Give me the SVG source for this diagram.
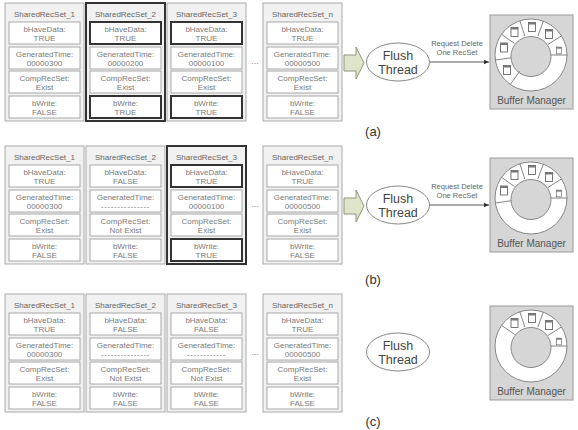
<svg xmlns="http://www.w3.org/2000/svg" xmlns:xlink="http://www.w3.org/1999/xlink" width="578" height="430" viewBox="0 0 578 430">
<style>
.col{fill:#f1f1f1;stroke:#aaa;stroke-width:1}
.box{fill:#fff;stroke:#a8a8a8;stroke-width:1}
.sel{stroke:#333;stroke-width:2}
.t{font-family:"Liberation Sans",Arial,sans-serif;font-size:8px;fill:#7a7a7a;text-anchor:middle}
.h{font-family:"Liberation Sans",Arial,sans-serif;font-size:8px;fill:#666;text-anchor:middle}
.dots{font-family:"Liberation Sans",Arial,sans-serif;font-size:9px;fill:#888;text-anchor:middle}
.ft{font-family:"Liberation Sans",Arial,sans-serif;font-size:12.5px;fill:#444;text-anchor:middle}
.lbl{font-family:"Liberation Sans",Arial,sans-serif;font-size:7.5px;fill:#666;text-anchor:middle}
.bm{font-family:"Liberation Sans",Arial,sans-serif;font-size:10px;fill:#555;text-anchor:middle}
.pl{font-family:"Liberation Sans",Arial,sans-serif;font-size:13px;fill:#333;text-anchor:middle}
.ell{fill:#fff;stroke:#888;stroke-width:1}
.blk{fill:#dfe5c9;stroke:#8f9480;stroke-width:1}
.conn{stroke:#555;stroke-width:1;fill:none}
.bmbox{fill:#d6d6d6;stroke:#999;stroke-width:1}
.ring{fill:#fff;stroke:#888;stroke-width:1}
.core{fill:#d6d6d6;stroke:#888;stroke-width:1}
.div{stroke:#777;stroke-width:0.9}
</style>
<defs>
<marker id="ah" markerWidth="6" markerHeight="6" refX="5" refY="3" orient="auto" markerUnits="userSpaceOnUse">
<path d="M0,0.8 L5,3 L0,5.2 Z" fill="#333"/>
</marker>
<g id="doc">
<rect x="-3.5" y="-4.5" width="7" height="9" fill="#fff" stroke="#555" stroke-width="0.8"/>
<rect x="-3.5" y="-4.5" width="7" height="2" fill="#777"/>
</g>
</defs>

<!-- Panel (a) -->
<g id="panel-a" transform="translate(0,3)">
<g id="a-col1" transform="translate(5,0)">
<rect class="col" x="0" y="0" width="79" height="118"/>
<text class="h" x="39.5" y="14">SharedRecSet_1</text>
<rect class="box" x="4" y="19" width="71" height="22"/>
<text class="t" x="39.5" y="28.5">bHaveData:</text><text class="t" x="39.5" y="37.5">TRUE</text>
<rect class="box" x="4" y="44" width="71" height="22"/>
<text class="t" x="39.5" y="53.5">GeneratedTime:</text><text class="t" x="39.5" y="62.5">00000300</text>
<rect class="box" x="4" y="68" width="71" height="22"/>
<text class="t" x="39.5" y="77.5">CompRecSet:</text><text class="t" x="39.5" y="86.5">Exist</text>
<rect class="box" x="4" y="93" width="71" height="22"/>
<text class="t" x="39.5" y="102.5">bWrite:</text><text class="t" x="39.5" y="111.5">FALSE</text>
</g>
<g id="a-col2" transform="translate(86,0)">
<rect class="col sel" x="0" y="0" width="79" height="118"/>
<text class="h" x="39.5" y="14">SharedRecSet_2</text>
<rect class="box sel" x="4" y="19" width="71" height="22"/>
<text class="t" x="39.5" y="28.5">bHaveData:</text><text class="t" x="39.5" y="37.5">TRUE</text>
<rect class="box" x="4" y="44" width="71" height="22"/>
<text class="t" x="39.5" y="53.5">GeneratedTime:</text><text class="t" x="39.5" y="62.5">00000200</text>
<rect class="box" x="4" y="68" width="71" height="22"/>
<text class="t" x="39.5" y="77.5">CompRecSet:</text><text class="t" x="39.5" y="86.5">Exist</text>
<rect class="box sel" x="4" y="93" width="71" height="22"/>
<text class="t" x="39.5" y="102.5">bWrite:</text><text class="t" x="39.5" y="111.5">TRUE</text>
</g>
<g id="a-col3" transform="translate(167,0)">
<rect class="col" x="0" y="0" width="79" height="118"/>
<text class="h" x="39.5" y="14">SharedRecSet_3</text>
<rect class="box sel" x="4" y="19" width="71" height="22"/>
<text class="t" x="39.5" y="28.5">bHaveData:</text><text class="t" x="39.5" y="37.5">TRUE</text>
<rect class="box" x="4" y="44" width="71" height="22"/>
<text class="t" x="39.5" y="53.5">GeneratedTime:</text><text class="t" x="39.5" y="62.5">00000100</text>
<rect class="box" x="4" y="68" width="71" height="22"/>
<text class="t" x="39.5" y="77.5">CompRecSet:</text><text class="t" x="39.5" y="86.5">Exist</text>
<rect class="box sel" x="4" y="93" width="71" height="22"/>
<text class="t" x="39.5" y="102.5">bWrite:</text><text class="t" x="39.5" y="111.5">TRUE</text>
</g>
<text class="dots" x="255" y="61">...</text>
<g id="a-coln" transform="translate(263,0)">
<rect class="col" x="0" y="0" width="79" height="118"/>
<text class="h" x="39.5" y="14">SharedRecSet_n</text>
<rect class="box" x="4" y="19" width="71" height="22"/>
<text class="t" x="39.5" y="28.5">bHaveData:</text><text class="t" x="39.5" y="37.5">TRUE</text>
<rect class="box" x="4" y="44" width="71" height="22"/>
<text class="t" x="39.5" y="53.5">GeneratedTime:</text><text class="t" x="39.5" y="62.5">00000500</text>
<rect class="box" x="4" y="68" width="71" height="22"/>
<text class="t" x="39.5" y="77.5">CompRecSet:</text><text class="t" x="39.5" y="86.5">Exist</text>
<rect class="box" x="4" y="93" width="71" height="22"/>
<text class="t" x="39.5" y="102.5">bWrite:</text><text class="t" x="39.5" y="111.5">FALSE</text>
</g>
</g>
<g id="a-flush">
<ellipse class="ell" cx="398" cy="62" rx="31.5" ry="19"/>
<text class="ft" x="398" y="59.5">Flush</text>
<text class="ft" x="398" y="74">Thread</text>
</g>
<g id="a-buffer" transform="translate(490,15)">
<rect class="bmbox" x="0" y="0" width="83" height="94"/>
<circle class="ring" cx="41" cy="40" r="36"/>
<circle class="core" cx="41" cy="41.5" r="20"/>
<line class="div" x1="29.5" y1="56.4" x2="20.3" y2="69.5"/>
<line class="div" x1="21.2" y1="42.8" x2="5.4" y2="45"/>
<line class="div" x1="24.6" y1="28.5" x2="11.5" y2="19.3"/>
<line class="div" x1="34.8" y1="21" x2="29.9" y2="5.8"/>
<line class="div" x1="47.8" y1="21.2" x2="53.3" y2="6.2"/>
<line class="div" x1="58" y1="29.4" x2="71.5" y2="20.9"/>
<line class="div" x1="61" y1="40" x2="77" y2="40"/>
<use xlink:href="#doc" href="#doc" transform="translate(17,55)"/>
<use xlink:href="#doc" href="#doc" transform="translate(14,32.5)"/>
<use xlink:href="#doc" href="#doc" transform="translate(24.5,17)"/>
<use xlink:href="#doc" href="#doc" transform="translate(42,12)"/>
<use xlink:href="#doc" href="#doc" transform="translate(59,19)"/>
<use xlink:href="#doc" href="#doc" transform="translate(69,35.5) scale(0.75)"/>
<text class="bm" x="41.5" y="88.5">Buffer Manager</text>
</g>
<text class="pl" x="373" y="136">(a)</text>

<!-- Panel (b) -->
<g id="panel-b" transform="translate(0,146)">
<g id="b-col1" transform="translate(5,0)">
<rect class="col" x="0" y="0" width="79" height="118"/>
<text class="h" x="39.5" y="14">SharedRecSet_1</text>
<rect class="box" x="4" y="19" width="71" height="22"/>
<text class="t" x="39.5" y="28.5">bHaveData:</text><text class="t" x="39.5" y="37.5">TRUE</text>
<rect class="box" x="4" y="44" width="71" height="22"/>
<text class="t" x="39.5" y="53.5">GeneratedTime:</text><text class="t" x="39.5" y="62.5">00000300</text>
<rect class="box" x="4" y="68" width="71" height="22"/>
<text class="t" x="39.5" y="77.5">CompRecSet:</text><text class="t" x="39.5" y="86.5">Exist</text>
<rect class="box" x="4" y="93" width="71" height="22"/>
<text class="t" x="39.5" y="102.5">bWrite:</text><text class="t" x="39.5" y="111.5">FALSE</text>
</g>
<g id="b-col2" transform="translate(86,0)">
<rect class="col" x="0" y="0" width="79" height="118"/>
<text class="h" x="39.5" y="14">SharedRecSet_2</text>
<rect class="box" x="4" y="19" width="71" height="22"/>
<text class="t" x="39.5" y="28.5">bHaveData:</text><text class="t" x="39.5" y="37.5">FALSE</text>
<rect class="box" x="4" y="44" width="71" height="22"/>
<text class="t" x="39.5" y="53.5">GeneratedTime:</text><text class="t" x="39.5" y="62.5" letter-spacing="0.6">---------------</text>
<rect class="box" x="4" y="68" width="71" height="22"/>
<text class="t" x="39.5" y="77.5">CompRecSet:</text><text class="t" x="39.5" y="86.5">Not Exist</text>
<rect class="box" x="4" y="93" width="71" height="22"/>
<text class="t" x="39.5" y="102.5">bWrite:</text><text class="t" x="39.5" y="111.5">FALSE</text>
</g>
<g id="b-col3" transform="translate(167,0)">
<rect class="col sel" x="0" y="0" width="79" height="118"/>
<text class="h" x="39.5" y="14">SharedRecSet_3</text>
<rect class="box sel" x="4" y="19" width="71" height="22"/>
<text class="t" x="39.5" y="28.5">bHaveData:</text><text class="t" x="39.5" y="37.5">TRUE</text>
<rect class="box" x="4" y="44" width="71" height="22"/>
<text class="t" x="39.5" y="53.5">GeneratedTime:</text><text class="t" x="39.5" y="62.5">00000100</text>
<rect class="box" x="4" y="68" width="71" height="22"/>
<text class="t" x="39.5" y="77.5">CompRecSet:</text><text class="t" x="39.5" y="86.5">Exist</text>
<rect class="box sel" x="4" y="93" width="71" height="22"/>
<text class="t" x="39.5" y="102.5">bWrite:</text><text class="t" x="39.5" y="111.5">TRUE</text>
</g>
<text class="dots" x="255" y="61">...</text>
<g id="b-coln" transform="translate(263,0)">
<rect class="col" x="0" y="0" width="79" height="118"/>
<text class="h" x="39.5" y="14">SharedRecSet_n</text>
<rect class="box" x="4" y="19" width="71" height="22"/>
<text class="t" x="39.5" y="28.5">bHaveData:</text><text class="t" x="39.5" y="37.5">TRUE</text>
<rect class="box" x="4" y="44" width="71" height="22"/>
<text class="t" x="39.5" y="53.5">GeneratedTime:</text><text class="t" x="39.5" y="62.5">00000500</text>
<rect class="box" x="4" y="68" width="71" height="22"/>
<text class="t" x="39.5" y="77.5">CompRecSet:</text><text class="t" x="39.5" y="86.5">Exist</text>
<rect class="box" x="4" y="93" width="71" height="22"/>
<text class="t" x="39.5" y="102.5">bWrite:</text><text class="t" x="39.5" y="111.5">FALSE</text>
</g>
</g>
<g id="b-flush">
<ellipse class="ell" cx="398" cy="205" rx="31.5" ry="19"/>
<text class="ft" x="398" y="202.5">Flush</text>
<text class="ft" x="398" y="217">Thread</text>
</g>
<g id="b-buffer" transform="translate(490,158)">
<rect class="bmbox" x="0" y="0" width="83" height="94"/>
<circle class="ring" cx="41" cy="40" r="36"/>
<circle class="core" cx="41" cy="41.5" r="20"/>
<line class="div" x1="21.2" y1="42.8" x2="5.4" y2="45"/>
<line class="div" x1="24.6" y1="28.5" x2="11.5" y2="19.3"/>
<line class="div" x1="34.8" y1="21" x2="29.9" y2="5.8"/>
<line class="div" x1="47.8" y1="21.2" x2="53.3" y2="6.2"/>
<line class="div" x1="58" y1="29.4" x2="71.5" y2="20.9"/>
<line class="div" x1="61" y1="40" x2="77" y2="40"/>
<use xlink:href="#doc" href="#doc" transform="translate(14,32.5)"/>
<use xlink:href="#doc" href="#doc" transform="translate(24.5,17)"/>
<use xlink:href="#doc" href="#doc" transform="translate(42,12)"/>
<use xlink:href="#doc" href="#doc" transform="translate(59,19)"/>
<use xlink:href="#doc" href="#doc" transform="translate(69,35.5) scale(0.75)"/>
<text class="bm" x="41.5" y="88.5">Buffer Manager</text>
</g>
<text class="pl" x="373" y="284">(b)</text>

<!-- Panel (c) -->
<g id="panel-c" transform="translate(0,294)">
<g id="c-col1" transform="translate(5,0)">
<rect class="col" x="0" y="0" width="79" height="118"/>
<text class="h" x="39.5" y="14">SharedRecSet_1</text>
<rect class="box" x="4" y="19" width="71" height="22"/>
<text class="t" x="39.5" y="28.5">bHaveData:</text><text class="t" x="39.5" y="37.5">TRUE</text>
<rect class="box" x="4" y="44" width="71" height="22"/>
<text class="t" x="39.5" y="53.5">GeneratedTime:</text><text class="t" x="39.5" y="62.5">00000300</text>
<rect class="box" x="4" y="68" width="71" height="22"/>
<text class="t" x="39.5" y="77.5">CompRecSet:</text><text class="t" x="39.5" y="86.5">Exist</text>
<rect class="box" x="4" y="93" width="71" height="22"/>
<text class="t" x="39.5" y="102.5">bWrite:</text><text class="t" x="39.5" y="111.5">FALSE</text>
</g>
<g id="c-col2" transform="translate(86,0)">
<rect class="col" x="0" y="0" width="79" height="118"/>
<text class="h" x="39.5" y="14">SharedRecSet_2</text>
<rect class="box" x="4" y="19" width="71" height="22"/>
<text class="t" x="39.5" y="28.5">bHaveData:</text><text class="t" x="39.5" y="37.5">FALSE</text>
<rect class="box" x="4" y="44" width="71" height="22"/>
<text class="t" x="39.5" y="53.5">GeneratedTime:</text><text class="t" x="39.5" y="62.5" letter-spacing="0.6">---------------</text>
<rect class="box" x="4" y="68" width="71" height="22"/>
<text class="t" x="39.5" y="77.5">CompRecSet:</text><text class="t" x="39.5" y="86.5">Not Exist</text>
<rect class="box" x="4" y="93" width="71" height="22"/>
<text class="t" x="39.5" y="102.5">bWrite:</text><text class="t" x="39.5" y="111.5">FALSE</text>
</g>
<g id="c-col3" transform="translate(167,0)">
<rect class="col" x="0" y="0" width="79" height="118"/>
<text class="h" x="39.5" y="14">SharedRecSet_3</text>
<rect class="box" x="4" y="19" width="71" height="22"/>
<text class="t" x="39.5" y="28.5">bHaveData:</text><text class="t" x="39.5" y="37.5">FALSE</text>
<rect class="box" x="4" y="44" width="71" height="22"/>
<text class="t" x="39.5" y="53.5">GeneratedTime:</text><text class="t" x="39.5" y="62.5" letter-spacing="0.6">------------</text>
<rect class="box" x="4" y="68" width="71" height="22"/>
<text class="t" x="39.5" y="77.5">CompRecSet:</text><text class="t" x="39.5" y="86.5">Not Exist</text>
<rect class="box" x="4" y="93" width="71" height="22"/>
<text class="t" x="39.5" y="102.5">bWrite:</text><text class="t" x="39.5" y="111.5">FALSE</text>
</g>
<text class="dots" x="255" y="61">...</text>
<g id="c-coln" transform="translate(263,0)">
<rect class="col" x="0" y="0" width="79" height="118"/>
<text class="h" x="39.5" y="14">SharedRecSet_n</text>
<rect class="box" x="4" y="19" width="71" height="22"/>
<text class="t" x="39.5" y="28.5">bHaveData:</text><text class="t" x="39.5" y="37.5">TRUE</text>
<rect class="box" x="4" y="44" width="71" height="22"/>
<text class="t" x="39.5" y="53.5">GeneratedTime:</text><text class="t" x="39.5" y="62.5">00000500</text>
<rect class="box" x="4" y="68" width="71" height="22"/>
<text class="t" x="39.5" y="77.5">CompRecSet:</text><text class="t" x="39.5" y="86.5">Exist</text>
<rect class="box" x="4" y="93" width="71" height="22"/>
<text class="t" x="39.5" y="102.5">bWrite:</text><text class="t" x="39.5" y="111.5">FALSE</text>
</g>
</g>
<g id="c-flush">
<ellipse class="ell" cx="398" cy="352" rx="31.5" ry="19"/>
<text class="ft" x="398" y="349.5">Flush</text>
<text class="ft" x="398" y="364">Thread</text>
</g>
<g id="c-buffer" transform="translate(490,306)">
<rect class="bmbox" x="0" y="0" width="83" height="94"/>
<circle class="ring" cx="41" cy="40" r="36"/>
<circle class="core" cx="41" cy="41.5" r="20"/>
<line class="div" x1="24.6" y1="28.5" x2="11.5" y2="19.3"/>
<line class="div" x1="34.8" y1="21" x2="29.9" y2="5.8"/>
<line class="div" x1="47.8" y1="21.2" x2="53.3" y2="6.2"/>
<line class="div" x1="58" y1="29.4" x2="71.5" y2="20.9"/>
<line class="div" x1="61" y1="40" x2="77" y2="40"/>
<use xlink:href="#doc" href="#doc" transform="translate(24.5,17)"/>
<use xlink:href="#doc" href="#doc" transform="translate(42,12)"/>
<use xlink:href="#doc" href="#doc" transform="translate(59,19)"/>
<use xlink:href="#doc" href="#doc" transform="translate(69,35.5) scale(0.75)"/>
<text class="bm" x="41.5" y="88.5">Buffer Manager</text>
</g>
<text class="pl" x="373" y="426">(c)</text>

<!-- Connectors -->
<g id="connectors">
<polygon class="blk" points="344,55 356,55 356,47 364,63 356,79 356,71 344,71"/>
<line class="conn" x1="430" y1="62" x2="489" y2="62" marker-end="url(#ah)"/>
<text class="lbl" x="457" y="46">Request Delete</text>
<text class="lbl" x="457" y="55">One RecSet</text>
<polygon class="blk" points="344,198 356,198 356,190 364,206 356,222 356,214 344,214"/>
<line class="conn" x1="430" y1="205" x2="489" y2="205" marker-end="url(#ah)"/>
<text class="lbl" x="457" y="189">Request Delete</text>
<text class="lbl" x="457" y="198">One RecSet</text>
</g>
</svg>
